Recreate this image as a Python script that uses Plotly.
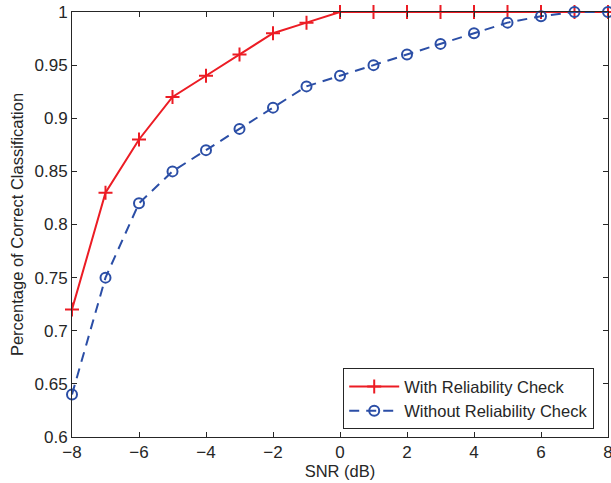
import plotly.graph_objects as go

snr = [-8, -7, -6, -5, -4, -3, -2, -1, 0, 1, 2, 3, 4, 5, 6, 7, 8]
with_check = [0.72, 0.83, 0.88, 0.92, 0.94, 0.96, 0.98, 0.99, 1.0, 1.0, 1.0, 1.0, 1.0, 1.0, 1.0, 1.0, 1.0]
without_check = [0.64, 0.75, 0.82, 0.85, 0.87, 0.89, 0.91, 0.93, 0.94, 0.95, 0.96, 0.97, 0.98, 0.99, 0.996, 1.0, 1.0]
x_ticks = [-8, -6, -4, -2, 0, 2, 4, 6, 8]
y_ticks = [0.6, 0.65, 0.7, 0.75, 0.8, 0.85, 0.9, 0.95, 1.0]
y_labels = ["0.6", "0.65", "0.7", "0.75", "0.8", "0.85", "0.9", "0.95", "1"]
x_labels = ["\u22128", "\u22126", "\u22124", "\u22122", "0", "2", "4", "6", "8"]

RED = "#ec1c24"
BLUE = "#2b4ea6"
INK = "#262626"
FONT = "Liberation Sans, Arial, sans-serif"

fig = go.Figure()
fig.add_trace(go.Scatter(
    x=snr, y=with_check, mode="lines+markers", name="With Reliability Check",
    line=dict(color=RED, width=2),
    marker=dict(symbol="cross-thin", size=10, line=dict(color=RED, width=2)),
    cliponaxis=False,
))
fig.add_trace(go.Scatter(
    x=snr, y=without_check, mode="lines+markers", name="Without Reliability Check",
    line=dict(color=BLUE, width=2, dash="10px,7px"),
    marker=dict(symbol="circle-open", size=10, color=BLUE, line=dict(color=BLUE, width=2)),
    cliponaxis=False,
))

axis_common = dict(
    showline=True, linecolor=INK, linewidth=1, mirror="ticks",
    ticks="inside", ticklen=5, tickcolor=INK, showgrid=False, zeroline=False,
    tickfont=dict(family=FONT, size=17, color=INK),
    ticklabeloverflow="allow",
)
fig.update_xaxes(range=[-8, 8], tickvals=x_ticks, ticktext=x_labels,
                 title=dict(text="SNR (dB)", font=dict(family=FONT, size=16.5, color=INK), standoff=1),
                 **axis_common)
fig.update_yaxes(range=[0.6, 1.0], tickvals=y_ticks, ticktext=y_labels,
                 title=dict(text="Percentage of Correct Classification", font=dict(family=FONT, size=16.5, color=INK), standoff=6),
                 **axis_common)

fig.update_layout(
    width=611, height=483,
    autosize=False,
    margin=dict(l=72, r=3, t=12, b=46, autoexpand=False),
    paper_bgcolor="white", plot_bgcolor="white",
    showlegend=True,
    legend=dict(x=0.506, y=0.162, xanchor="left", yanchor="top",
                bordercolor=INK, borderwidth=1, bgcolor="white",
                font=dict(family=FONT, size=16.5, color=INK),
                tracegroupgap=0, itemwidth=50),
    font=dict(family=FONT),
)

fig.write_html("out.html", config={"displayModeBar": False},
               post_script="document.body.style.margin='0';")
